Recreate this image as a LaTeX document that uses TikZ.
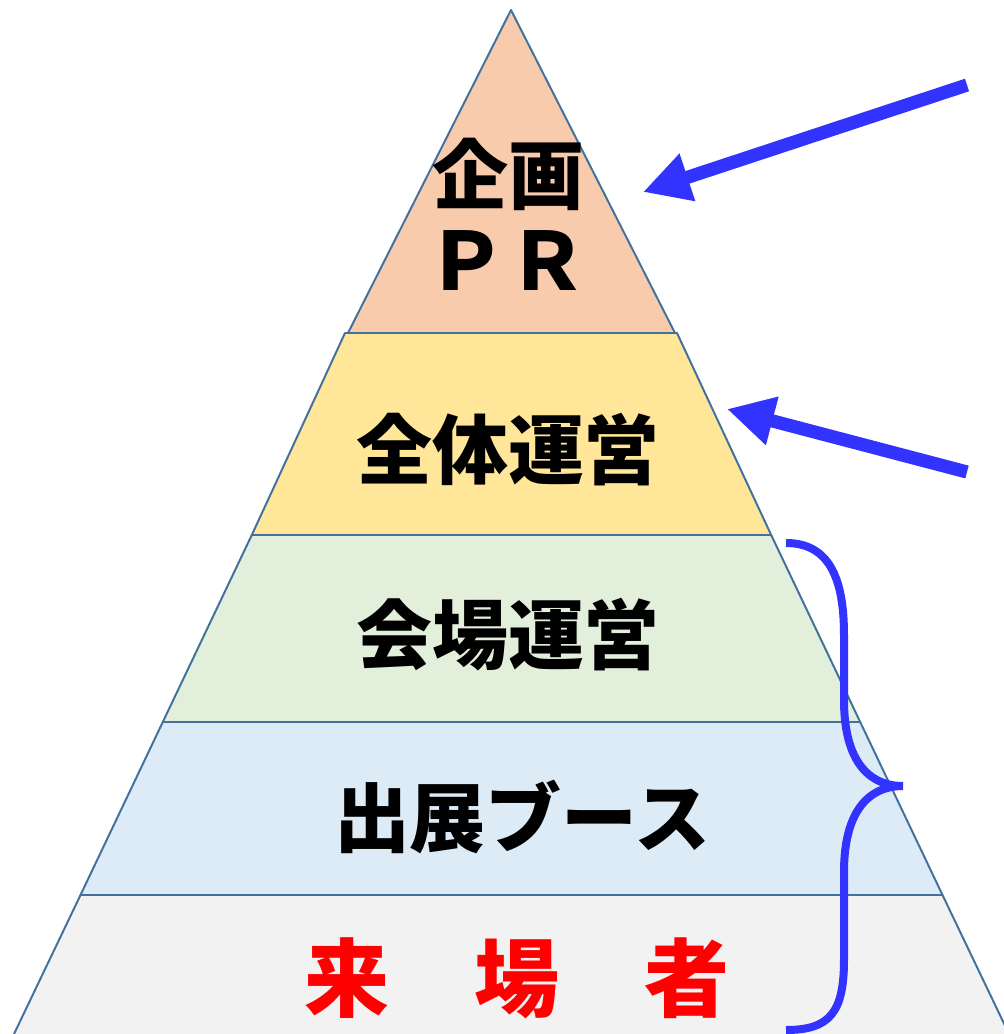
\documentclass[tikz,border=0pt]{standalone}
\usepackage{fontspec}
\newfontfamily\jpfont{Noto Sans CJK JP}
\usetikzlibrary{arrows.meta}
\definecolor{edgeblue}{HTML}{41719C}
\definecolor{arrowblue}{HTML}{3333FF}
\definecolor{tierA}{HTML}{F8CBAD}
\definecolor{tierB}{HTML}{FFE699}
\definecolor{tierC}{HTML}{E2EFDA}
\definecolor{tierD}{HTML}{DDEBF7}
\definecolor{tierE}{HTML}{F2F2F2}
\tikzset{
  tier/.style={draw=edgeblue, line width=1.4pt, line join=round},
  tiertext/.style={font=\jpfont\bfseries\fontsize{54}{64}\selectfont, inner sep=0pt, align=center},
  pointer/.style={draw=arrowblue, line width=0.33cm, -{Triangle[length=1.17cm,width=1.17cm]}},
}
\begin{document}
\begin{tikzpicture}
    \def\x{0.025}
    \def\y{-0.025}
    \useasboundingbox (0*\x, 0*\y) rectangle (1004*\x, 1034*\y);
    % layers, bottom first
    \filldraw[tier, fill=tierE] (14*\x, 1034*\y) -- (80.5*\x, 895*\y) -- (942.5*\x, 895*\y) -- (1009*\x, 1034*\y);
    \filldraw[tier, fill=tierD] (80.5*\x, 895*\y) -- (162.8*\x, 722*\y) -- (860.2*\x, 722*\y) -- (942.5*\x, 895*\y) -- cycle;
    \filldraw[tier, fill=tierC] (162.8*\x, 722*\y) -- (251.8*\x, 535*\y) -- (771.2*\x, 535*\y) -- (860.2*\x, 722*\y) -- cycle;
    \filldraw[tier, fill=tierB] (251.8*\x, 535*\y) -- (345*\x, 333*\y) -- (677*\x, 333*\y) -- (771.2*\x, 535*\y) -- cycle;
    \filldraw[tier, fill=tierA] (348*\x, 333*\y) -- (511*\x, 10*\y) -- (675*\x, 333*\y) -- cycle;
    % texts
    \node[tiertext] (T0) at (508*\x, 174*\y) {企画};
    \node[tiertext, font=\jpfont\bfseries\fontsize{57}{64}\selectfont] (T0b) at (507*\x, 261*\y) {ＰＲ};
    \node[tiertext] (T1) at (508*\x, 450*\y) {全体運営};
    \node[tiertext] (T2) at (508*\x, 635*\y) {会場運営};
    \node[tiertext] (T3) at (522*\x, 817*\y) {出展ブース};
    \node[tiertext, text=red, font=\jpfont\bfseries\fontsize{60.5}{66}\selectfont] (T4) at (517*\x, 978*\y) {来　場　者};
    % arrows
    \coordinate (P0) at (967*\x, 85*\y);
    \coordinate (Q0) at (643*\x, 192*\y);
    \coordinate (P1) at (967*\x, 472*\y);
    \coordinate (Q1) at (727*\x, 409*\y);
    \draw[pointer] (P0) -- (Q0);
    \draw[pointer] (P1) -- (Q1);
    % brace
    \coordinate (B0) at (786*\x, 543*\y);
    \coordinate (B1) at (903*\x, 786*\y);
    \coordinate (B2) at (786*\x, 1030*\y);
    \draw[arrowblue, line width=0.2cm] (B0)
      .. controls (830*\x, 543*\y) and (844*\x, 580*\y) .. (844*\x, 635*\y)
      -- (844*\x, 700*\y)
      .. controls (844*\x, 760*\y) and (868*\x, 786*\y) .. (B1)
      .. controls (868*\x, 786*\y) and (844*\x, 812*\y) .. (844*\x, 872*\y)
      -- (844*\x, 960*\y)
      .. controls (844*\x, 1012*\y) and (830*\x, 1030*\y) .. (B2);
\end{tikzpicture}
\end{document}
